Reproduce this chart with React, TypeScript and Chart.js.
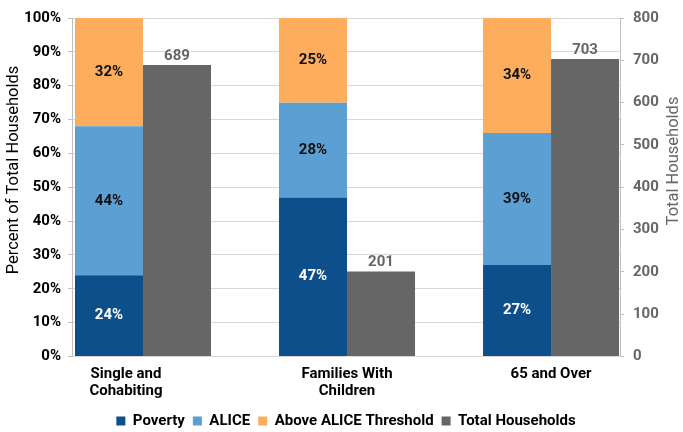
import { useEffect, useRef } from "react";
import { Chart, registerables } from "chart.js";

Chart.register(...registerables);

// ---- data ----
const categories = ["Single and Cohabiting", "Families With Children", "65 and Over"];
const categoryLines = [["Single and", "Cohabiting"], ["Families With", "Children"], ["65 and Over"]];
const poverty = [24, 47, 27];
const alice = [44, 28, 39];
const aboveAlice = [32, 25, 34];
const totalHouseholds = [689, 201, 703];
const seriesNames = ["Poverty", "ALICE", "Above ALICE Threshold", "Total Households"];
const leftAxisTitle = "Percent of Total Households";
const rightAxisTitle = "Total Households";

// ---- styles ----
const FONT = "Roboto";
const COLORS = ["#0D4F8B", "#5B9FD3", "#FDAD5C", "#666666"];
const PCT_LABEL_COLORS = ["#FFFFFF", "#111111", "#111111"];
const GRAY_TEXT = "#666666";
const GRID = "#D9D9D9";
const AXIS = "#BFBFBF";
const X_MIN = -0.348;
const X_MAX = 2.338;
const CAT_LABEL_SHIFT = [-17, 0, 0];

let debugInfo = "";

const textPlugin = {
  id: "customText",
  afterDatasetsDraw(chart: any) {
    const ctx = chart.ctx;
    ctx.save();
    ctx.font = `bold 15px ${FONT}`;
    ctx.textAlign = "center";
    chart.data.datasets.forEach((ds: any, di: number) => {
      const meta = chart.getDatasetMeta(di);
      meta.data.forEach((el: any, i: number) => {
        const { x, y, base } = el.getProps(["x", "y", "base"], true);
        const v = ds.data[i].y;
        if (ds.stack === "pct") {
          ctx.fillStyle = PCT_LABEL_COLORS[di];
          ctx.textBaseline = "middle";
          ctx.fillText(v + "%", x, (y + base) / 2);
        } else {
          ctx.fillStyle = GRAY_TEXT;
          ctx.textBaseline = "alphabetic";
          ctx.fillText(String(v), x, y - 5);
        }
      });
    });
    ctx.restore();
  },
  afterDraw(chart: any) {
    const ctx = chart.ctx;
    const xs = chart.scales.x;
    const area = chart.chartArea;
    ctx.save();
    // category labels
    ctx.font = `bold 15px ${FONT}`;
    ctx.fillStyle = "#000000";
    ctx.textAlign = "center";
    ctx.textBaseline = "alphabetic";
    categoryLines.forEach((lines, i) => {
      const cx = xs.getPixelForValue(i) + CAT_LABEL_SHIFT[i];
      lines.forEach((line, li) => {
        ctx.fillText(line, cx, area.bottom + 21 + li * 17.5);
      });
    });
    // axis titles
    ctx.textBaseline = "middle";
    ctx.font = `16.5px ${FONT}`;
    ctx.fillStyle = "#000000";
    ctx.save();
    ctx.translate(13.5, 170);
    ctx.rotate(-Math.PI / 2);
    ctx.fillText(leftAxisTitle, 0, 0);
    ctx.restore();
    ctx.font = `16.5px ${FONT}`;
    ctx.fillStyle = GRAY_TEXT;
    ctx.save();
    ctx.translate(674, 161);
    ctx.rotate(-Math.PI / 2);
    ctx.fillText(rightAxisTitle, 0, 0);
    ctx.restore();
    ctx.restore();
  },
};

export default function App() {
  const canvasRef = useRef<HTMLCanvasElement | null>(null);

  useEffect(() => {
    document.body.style.margin = "0";
    const canvas = canvasRef.current;
    if (!canvas) return;
    const toPts = (arr: number[]) => arr.map((v, i) => ({ x: i, y: v }));
    const chart = new Chart(canvas, {
      type: "bar",
      data: {
        datasets: [
          { label: seriesNames[0], data: toPts(poverty), backgroundColor: COLORS[0], stack: "pct", yAxisID: "y" },
          { label: seriesNames[1], data: toPts(alice), backgroundColor: COLORS[1], stack: "pct", yAxisID: "y" },
          { label: seriesNames[2], data: toPts(aboveAlice), backgroundColor: COLORS[2], stack: "pct", yAxisID: "y" },
          { label: seriesNames[3], data: toPts(totalHouseholds), backgroundColor: COLORS[3], stack: "total", yAxisID: "y1" },
        ] as any,
      },
      options: {
        animation: false,
        responsive: true,
        maintainAspectRatio: false,
        datasets: { bar: { categoryPercentage: 136 / 204, barPercentage: 1, borderWidth: 0 } } as any,
        layout: { padding: { left: 0, right: 0, top: 10, bottom: -6.5 } },
        plugins: {
          tooltip: { enabled: false },
          legend: {
            position: "bottom",
            fullSize: false,
            labels: {
              font: { family: FONT, size: 15, weight: "bold" },
              color: "#000000",
              boxWidth: 9,
              boxHeight: 9,
              padding: 8,
            },
          },
        },
        scales: {
          x: {
            type: "linear",
            bounds: "data",
            offset: false,
            min: X_MIN,
            max: X_MAX,
            grid: { display: false, offset: false },
            border: { display: false },
            ticks: { display: false },
            afterBuildTicks: (s: any) => {
              s.ticks = categories.map((_, i) => ({ value: i }));
              s.min = X_MIN;
              s.max = X_MAX;
            },
            afterFit: (s: any) => {
              s.height = 49;
            },
          },
          y: {
            position: "left",
            stacked: true,
            min: 0,
            max: 100,
            ticks: {
              stepSize: 10,
              padding: 7,
              color: "#000000",
              font: { family: FONT, size: 15, weight: "bold" },
              callback: (v: any) => v + "%",
            },
            grid: { color: GRID, lineWidth: 1, tickLength: 4, tickColor: AXIS, drawTicks: true },
            border: { display: true, color: AXIS },
            afterFit: (s: any) => {
              s.width = 72;
            },
          },
          y1: {
            position: "right",
            min: 0,
            max: 800,
            ticks: {
              stepSize: 100,
              padding: 9,
              color: GRAY_TEXT,
              font: { family: FONT, size: 15, weight: "bold" },
            },
            grid: { drawOnChartArea: false, tickLength: 4, tickColor: AXIS, drawTicks: true },
            border: { display: true, color: AXIS },
            afterFit: (s: any) => {
              s.width = 63;
            },
          },
        } as any,
      },
      plugins: [textPlugin],
    });
    return () => chart.destroy();
  }, []);

  return (
    <div style={{ position: "relative", width: "683px", height: "432px" }}>
      <canvas ref={canvasRef} />
    </div>
  );
}
